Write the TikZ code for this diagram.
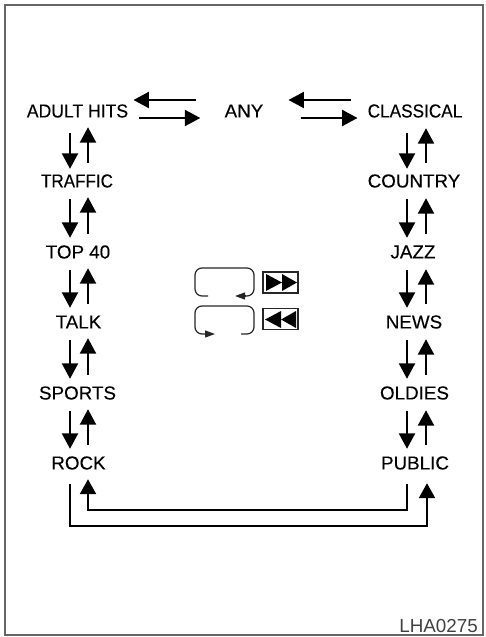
\documentclass[tikz,border=0pt]{standalone}
\usepackage{fontspec}
\usepackage{graphicx}
\setmainfont{Liberation Sans}
\newfontfamily\lblfont[FakeBold=0.2]{Liberation Sans}
\usetikzlibrary{arrows.meta}
\newcommand{\narrow}[2]{\scalebox{#1}[1]{#2}}
\tikzset{
  x=1pt,y=-1pt,
  lbl/.style={inner sep=0pt,minimum height=24pt,font=\lblfont\fontsize{18.8}{20}\selectfont,text=black},
  arr/.style={line width=2.3pt,-{Stealth[length=15.5pt,width=16pt,inset=0pt]}},
  loopl/.style={line width=2.3pt,line join=miter,-{Stealth[length=15pt,width=16pt,inset=0pt]}},
  mini/.style={line width=1.2pt,black!85},
  minihead/.style={mini,-{Stealth[length=10pt,width=7pt,inset=0pt]}},
  keybox/.style={draw=black!85,line width=1.2pt,minimum width=35pt,minimum height=21pt,inner sep=0pt},
  tri/.style={fill=black,draw=none},
}
\begin{document}
\begin{tikzpicture}
\useasboundingbox (0,0) rectangle (485,637);
\draw[line width=2pt,black!60] (5,5) rectangle (483,635);
% left column
\node[lbl] (a1) at (77.5,111) {\narrow{0.935}{ADULT HITS}};
\node[lbl] (a2) at (77,181) {\narrow{0.905}{TRAFFIC}};
\node[lbl] (a3) at (78,252) {TOP 40};
\node[lbl] (a4) at (78.5,322) {TALK};
\node[lbl] (a5) at (77.5,393) {SPORTS};
\node[lbl] (a6) at (78.5,463) {ROCK};
% centre
\node[lbl] (any) at (244,111) {ANY};
% right column
\node[lbl] (b1) at (415,111) {\narrow{0.915}{CLASSICAL}};
\node[lbl] (b2) at (414,181) {COUNTRY};
\node[lbl] (b3) at (413,252) {JAZZ};
\node[lbl] (b4) at (414,322) {NEWS};
\node[lbl] (b5) at (414.5,393) {OLDIES};
\node[lbl] (b6) at (415,463) {PUBLIC};
\node[inner sep=0pt,anchor=east,font=\fontsize{18.8}{20}\selectfont,text=black!75] (code) at (478,626) {LHA0275};
% vertical pairs, left
\foreach \p/\q/\s/\t in {a1/a2/-10/0,a2/a3/-6/2,a3/a4/-6/2,a4/a5/-6/2,a5/a6/-6/2}{
  \draw[arr] ([yshift=\s pt]\p.south -| 70,0) -- ([yshift=\t pt]\q.north -| 70,0);
  \draw[arr] ([yshift=6pt]\q.north -| 88,0) -- ([yshift=-4pt]\p.south -| 88,0);
}
% vertical pairs, right
\foreach \p/\q/\s/\t in {b1/b2/-10/0,b2/b3/-6/2,b3/b4/-6/2,b4/b5/-6/2,b5/b6/-6/2}{
  \draw[arr] ([yshift=\s pt]\p.south -| 407,0) -- ([yshift=\t pt]\q.north -| 407,0);
  \draw[arr] ([yshift=6pt]\q.north -| 426,0) -- ([yshift=-5pt]\p.south -| 426,0);
}
% horizontal pairs
\draw[arr] (any.west |- 0,100) ++(-28,0) -- ++(-63,0);
\draw[arr] (a1.east |- 0,118) ++(11,0) -- ++(61,0);
\draw[arr] (b1.west |- 0,100) ++(-16,0) -- ++(-63,0);
\draw[arr] (any.east |- 0,118) ++(37,0) -- ++(57,0);
% bottom loops
\draw[loopl] ([yshift=-9pt]a6.south -| 70,0) |- (427,526) -- ([yshift=-8pt]b6.south -| 427,0);
\draw[loopl] ([yshift=-9pt]b6.south -| 407,0) |- (88,510) -- ([yshift=-4pt]a6.south -| 88,0);
% mini loop symbols
\draw[mini,rounded corners=7pt] (208,296) -- (195,296) -- (195,268) -- (254,268) -- (254,296) -- (244,296);
\draw[minihead] (245,296) -- (235,296);
\draw[mini,rounded corners=7pt] (241,334) -- (254,334) -- (254,306) -- (195,306) -- (195,334) -- (206,334);
\draw[minihead] (205,334) -- (215,334);
% key boxes
\node[keybox] (ff) at (280.5,282.5) {};
\node[keybox] (rw) at (280.5,319) {};
\fill[tri] (266,274) -- (282,282.5) -- (266,291) -- cycle;
\fill[tri] (282,274) -- (297,282.5) -- (282,291) -- cycle;
\fill[tri] (281,311) -- (265,319.5) -- (281,328) -- cycle;
\fill[tri] (296,311) -- (281,319.5) -- (296,328) -- cycle;
\end{tikzpicture}
\end{document}
